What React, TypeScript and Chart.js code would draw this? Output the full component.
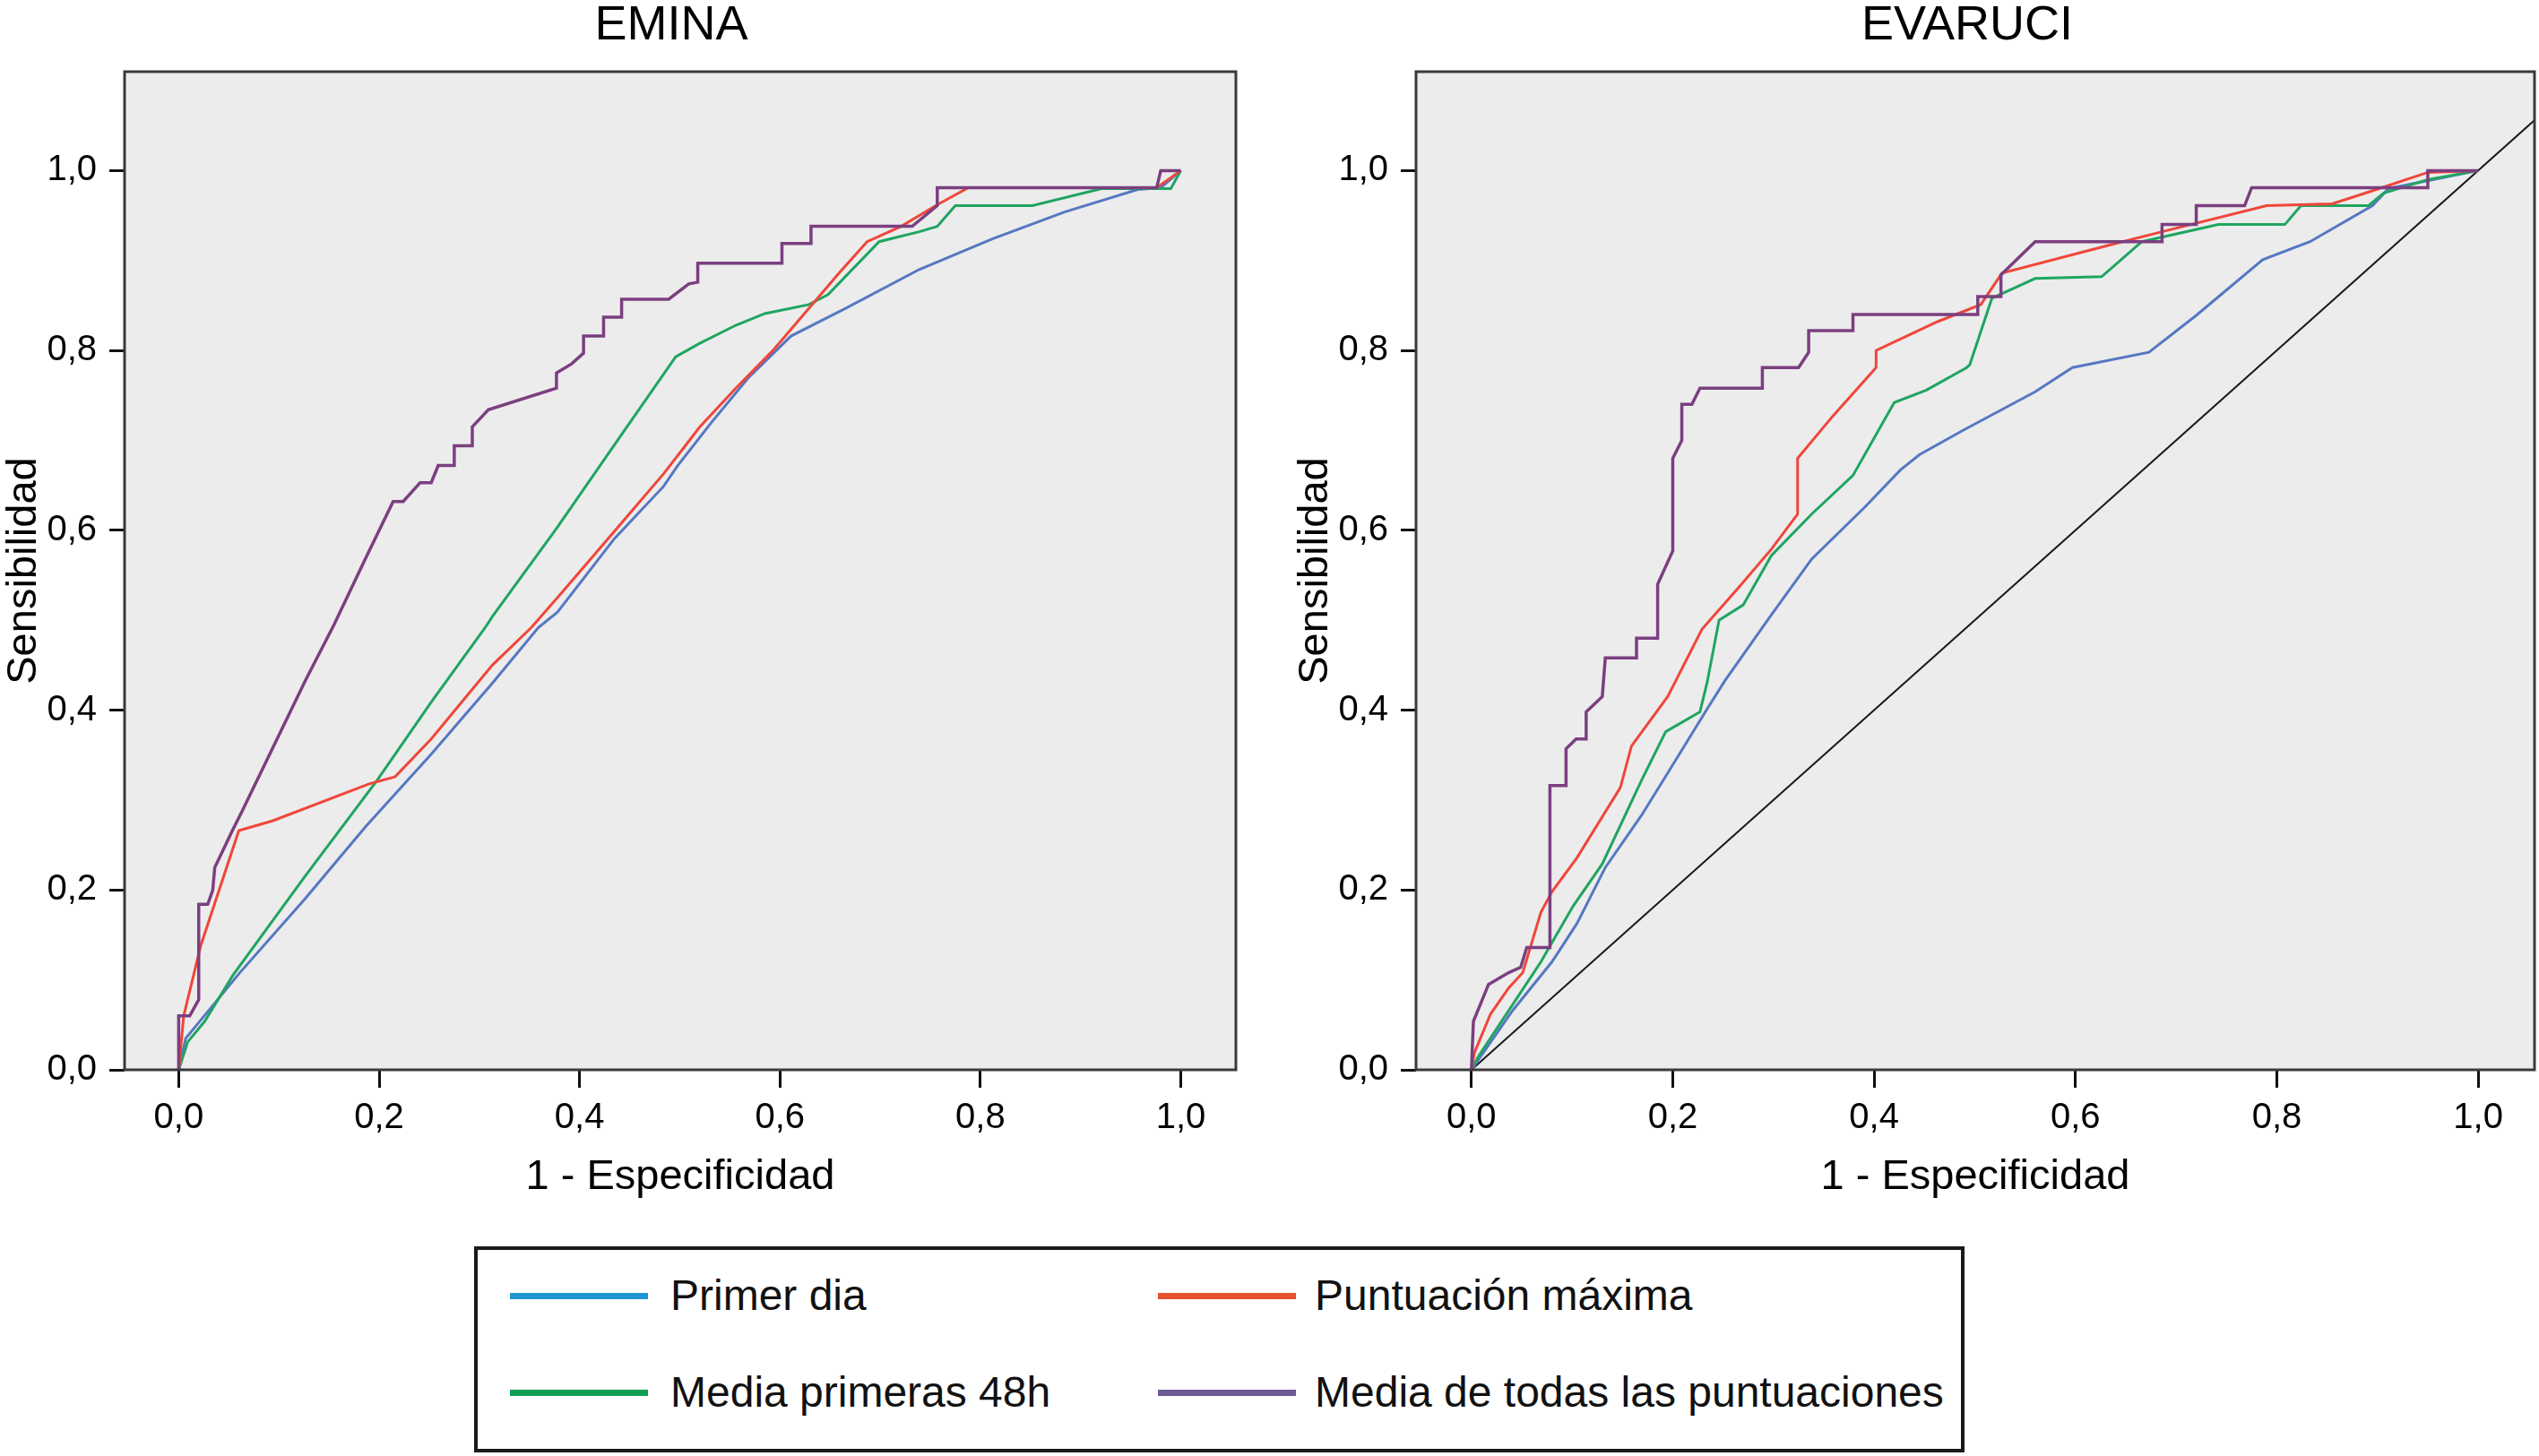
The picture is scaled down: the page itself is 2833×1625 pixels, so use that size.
import React, { useEffect, useRef } from "react";
import { Chart, registerables } from "chart.js";

Chart.register(...registerables);

type Pt = [number, number];

const FONT = '"Liberation Sans", Arial, Helvetica, sans-serif';

const SERIES_LABELS = [
  "Primer dia",
  "Puntuación máxima",
  "Media primeras 48h",
  "Media de todas las puntuaciones",
];
const PLOT_COLORS = ["#5578c2", "#f0463a", "#1fa561", "#7b3f80"];
const LEGEND_COLORS = ["#1e96d2", "#e5522c", "#0f9d52", "#6d5a95"];

const X_TICKS = [0, 0.2, 0.4, 0.6, 0.8, 1.0];
const X_TICK_LABELS = ["0,0", "0,2", "0,4", "0,6", "0,8", "1,0"];
const Y_TICKS = [0, 0.2, 0.4, 0.6, 0.8, 1.0];
const Y_TICK_LABELS = ["0,0", "0,2", "0,4", "0,6", "0,8", "1,0"];

// ---------- EMINA ----------
const eminaPrimerDia: Pt[] = [
  [0, 0], [0.007, 0.035], [0.061, 0.108], [0.126, 0.19], [0.187, 0.271],
  [0.252, 0.351], [0.313, 0.43], [0.359, 0.492], [0.378, 0.509], [0.435, 0.591],
  [0.484, 0.649], [0.498, 0.672], [0.531, 0.719], [0.568, 0.769], [0.611, 0.816],
  [0.666, 0.847], [0.739, 0.89], [0.812, 0.924], [0.884, 0.954], [0.957, 0.979],
  [0.98, 0.981], [1.0, 1.0],
];
const eminaPuntMax: Pt[] = [
  [0, 0], [0.005, 0.06], [0.022, 0.138], [0.06, 0.266], [0.094, 0.277],
  [0.19, 0.318], [0.216, 0.326], [0.252, 0.368], [0.313, 0.45], [0.352, 0.492],
  [0.378, 0.525], [0.435, 0.599], [0.484, 0.663], [0.509, 0.699], [0.52, 0.715],
  [0.556, 0.758], [0.593, 0.8], [0.629, 0.847], [0.659, 0.886], [0.687, 0.921],
  [0.721, 0.938], [0.757, 0.962], [0.788, 0.981], [0.976, 0.981], [1.0, 1.0],
];
const eminaMedia48: Pt[] = [
  [0, 0], [0.009, 0.031], [0.026, 0.054], [0.054, 0.105], [0.126, 0.215],
  [0.198, 0.322], [0.252, 0.409], [0.306, 0.492], [0.313, 0.504], [0.377, 0.602],
  [0.438, 0.7], [0.496, 0.793], [0.52, 0.808], [0.556, 0.828], [0.585, 0.841],
  [0.629, 0.851], [0.648, 0.862], [0.699, 0.921], [0.739, 0.932], [0.757, 0.938],
  [0.775, 0.961], [0.852, 0.961], [0.921, 0.98], [0.99, 0.98], [1.0, 1.0],
];
const eminaMediaTodas: Pt[] = [
  [0, 0], [0, 0.06], [0.011, 0.06], [0.02, 0.078], [0.02, 0.184], [0.029, 0.184],
  [0.034, 0.2], [0.036, 0.225], [0.054, 0.267], [0.063, 0.287], [0.126, 0.432],
  [0.155, 0.495], [0.187, 0.57], [0.214, 0.632], [0.224, 0.632], [0.241, 0.653],
  [0.252, 0.653], [0.259, 0.672], [0.275, 0.672], [0.275, 0.694], [0.293, 0.694],
  [0.293, 0.715], [0.309, 0.734], [0.377, 0.758], [0.377, 0.775], [0.392, 0.785],
  [0.404, 0.797], [0.404, 0.816], [0.424, 0.816], [0.424, 0.837], [0.442, 0.837],
  [0.442, 0.857], [0.489, 0.857], [0.509, 0.874], [0.518, 0.876], [0.518, 0.897],
  [0.602, 0.897], [0.602, 0.919], [0.631, 0.919], [0.631, 0.938], [0.732, 0.938],
  [0.757, 0.961], [0.757, 0.981], [0.976, 0.981], [0.98, 1.0], [1.0, 1.0],
];

// ---------- EVARUCI ----------
const evaruciPrimerDia: Pt[] = [
  [0, 0], [0.041, 0.066], [0.08, 0.12], [0.105, 0.163], [0.133, 0.225],
  [0.169, 0.283], [0.195, 0.33], [0.234, 0.401], [0.252, 0.433], [0.298, 0.506],
  [0.338, 0.568], [0.391, 0.626], [0.426, 0.667], [0.445, 0.684], [0.488, 0.711],
  [0.56, 0.754], [0.597, 0.781], [0.673, 0.798], [0.72, 0.839], [0.786, 0.901],
  [0.833, 0.921], [0.895, 0.961], [0.911, 0.98], [1.0, 1.0],
];
const evaruciPuntMax: Pt[] = [
  [0, 0], [0.003, 0.019], [0.019, 0.062], [0.037, 0.091], [0.051, 0.108],
  [0.069, 0.175], [0.08, 0.198], [0.105, 0.236], [0.148, 0.314], [0.159, 0.36],
  [0.195, 0.415], [0.229, 0.49], [0.266, 0.537], [0.298, 0.579], [0.324, 0.618],
  [0.324, 0.68], [0.359, 0.727], [0.402, 0.781], [0.402, 0.8], [0.463, 0.832],
  [0.506, 0.851], [0.527, 0.886], [0.633, 0.917], [0.686, 0.932], [0.79, 0.961],
  [0.855, 0.963], [0.888, 0.975], [0.95, 0.998], [1.0, 1.0],
];
const evaruciMedia48: Pt[] = [
  [0, 0], [0.007, 0.015], [0.03, 0.054], [0.069, 0.12], [0.101, 0.182],
  [0.13, 0.229], [0.169, 0.322], [0.193, 0.376], [0.227, 0.398], [0.234, 0.43],
  [0.246, 0.5], [0.27, 0.517], [0.298, 0.572], [0.338, 0.618], [0.379, 0.661],
  [0.42, 0.742], [0.452, 0.756], [0.492, 0.781], [0.495, 0.784], [0.517, 0.858],
  [0.56, 0.88], [0.626, 0.882], [0.666, 0.921], [0.742, 0.94], [0.808, 0.94],
  [0.824, 0.961], [0.891, 0.961], [0.906, 0.975], [0.95, 0.99], [1.0, 1.0],
];
const evaruciMediaTodas: Pt[] = [
  [0, 0], [0.002, 0.054], [0.017, 0.095], [0.037, 0.108], [0.049, 0.114],
  [0.055, 0.136], [0.078, 0.136], [0.078, 0.316], [0.094, 0.316], [0.094, 0.357],
  [0.104, 0.368], [0.114, 0.368], [0.114, 0.398], [0.13, 0.415], [0.133, 0.458],
  [0.164, 0.458], [0.164, 0.48], [0.185, 0.48], [0.185, 0.54], [0.2, 0.577],
  [0.2, 0.68], [0.209, 0.7], [0.209, 0.74], [0.219, 0.74], [0.227, 0.758],
  [0.289, 0.758], [0.289, 0.781], [0.325, 0.781], [0.335, 0.798], [0.335, 0.822],
  [0.379, 0.822], [0.379, 0.84], [0.503, 0.84], [0.503, 0.86], [0.526, 0.86],
  [0.526, 0.884], [0.56, 0.921], [0.686, 0.921], [0.686, 0.94], [0.72, 0.94],
  [0.72, 0.961], [0.768, 0.961], [0.775, 0.981], [0.95, 0.981], [0.95, 1.0],
  [1.0, 1.0],
];
const referenceDiagonal: Pt[] = [[0, 0], [1.1, 1.1]];

type PanelProps = {
  title: string;
  series: Pt[][];
  diagonal: Pt[] | null;
  left: number;
  width: number;
  padRight: number;
  xMin: number;
  xMax: number;
  titleDx: number;
};

const PANEL_HEIGHT = 1345;

function Panel({ title, series, diagonal, left, width, padRight, xMin, xMax, titleDx }: PanelProps) {
  const ref = useRef<HTMLCanvasElement | null>(null);

  useEffect(() => {
    if (!ref.current) return;
    const plotBox = {
      id: "plotBox",
      beforeDraw(chart: any) {
        const { ctx, chartArea: a } = chart;
        ctx.save();
        ctx.fillStyle = "#ececec";
        ctx.fillRect(a.left, a.top, a.right - a.left, a.bottom - a.top);
        ctx.restore();
      },
      afterDraw(chart: any) {
        const { ctx, chartArea: a } = chart;
        ctx.save();
        ctx.strokeStyle = "#3a3a3a";
        ctx.lineWidth = 3;
        ctx.strokeRect(a.left, a.top, a.right - a.left, a.bottom - a.top);
        ctx.fillStyle = "#000";
        ctx.font = `54px ${FONT}`;
        ctx.textAlign = "center";
        ctx.textBaseline = "middle";
        ctx.fillText(title, (a.left + a.right) / 2 + titleDx, 29);
        ctx.restore();
      },
    };

    const datasets: any[] = series.map((s, i) => ({
      label: SERIES_LABELS[i],
      data: s.map(([x, y]) => ({ x, y })),
      showLine: true,
      borderColor: PLOT_COLORS[i],
      backgroundColor: PLOT_COLORS[i],
      borderWidth: i === 3 ? 3.5 : 3,
      pointRadius: 0,
      pointHoverRadius: 0,
      tension: 0,
      fill: false,
      order: [3, 1, 2, 0][i],
    }));
    if (diagonal) {
      datasets.push({
        label: "Línea de referencia",
        data: diagonal.map(([x, y]) => ({ x, y })),
        showLine: true,
        borderColor: "#1a1a1a",
        borderWidth: 2,
        pointRadius: 0,
        tension: 0,
        fill: false,
        order: 5,
      });
    }

    const chart = new Chart(ref.current, {
      type: "scatter",
      data: { datasets },
      plugins: [plotBox],
      options: {
        animation: false,
        responsive: true,
        maintainAspectRatio: false,
        layout: { padding: { top: 80, right: padRight, bottom: 0, left: 0 } },
        plugins: {
          legend: { display: false },
          tooltip: { enabled: false },
          title: { display: false },
        },
        scales: {
          x: {
            type: "linear",
            min: xMin,
            max: xMax,
            afterBuildTicks: (s: any) => {
              s.ticks = X_TICKS.map((v) => ({ value: v }));
            },
            afterFit: (s: any) => {
              s.height = PANEL_HEIGHT - 1194;
            },
            ticks: {
              callback: (_v: any, i: number) => X_TICK_LABELS[i],
              font: { family: FONT, size: 40 },
              color: "#000",
              padding: 10,
              maxRotation: 0,
              autoSkip: false,
            },
            grid: {
              display: true,
              drawOnChartArea: false,
              drawTicks: true,
              tickLength: 20,
              tickWidth: 3,
              tickColor: "#111",
            },
            border: { display: false },
            title: {
              display: true,
              text: "1 - Especificidad",
              color: "#000",
              font: { family: FONT, size: 47, lineHeight: 1 },
              padding: { top: 0, bottom: 7 },
            },
          },
          y: {
            type: "linear",
            min: 0,
            max: 1.11,
            afterBuildTicks: (s: any) => {
              s.ticks = Y_TICKS.map((v) => ({ value: v }));
            },
            afterFit: (s: any) => {
              s.width = 139;
            },
            ticks: {
              callback: (_v: any, i: number) => Y_TICK_LABELS[i],
              font: { family: FONT, size: 40 },
              color: "#000",
              padding: 14,
              autoSkip: false,
            },
            grid: {
              display: true,
              drawOnChartArea: false,
              drawTicks: true,
              tickLength: 17,
              tickWidth: 3,
              tickColor: "#111",
            },
            border: { display: false },
            title: {
              display: true,
              text: "Sensibilidad",
              color: "#000",
              font: { family: FONT, size: 47, lineHeight: 1 },
              padding: { top: 4, bottom: 0 },
            },
          },
        },
      } as any,
    });
    return () => chart.destroy();
  }, []);

  return (
    <div style={{ position: "absolute", left, top: 0, width, height: PANEL_HEIGHT }}>
      <canvas ref={ref} style={{ display: "block" }} />
    </div>
  );
}

function LegendBox() {
  const rows = [
    { idx: 0, x: 40, tx: 219, y: 55 },
    { idx: 1, x: 763, tx: 938, y: 55 },
    { idx: 2, x: 40, tx: 219, y: 163 },
    { idx: 3, x: 763, tx: 938, y: 163 },
  ];
  return (
    <div
      style={{
        position: "absolute",
        left: 529,
        top: 1391,
        width: 1663,
        height: 230,
        boxSizing: "border-box",
        border: "4px solid #1a1a1a",
        background: "#fff",
        fontFamily: FONT,
      }}
    >
      {rows.map((r) => (
        <React.Fragment key={r.idx}>
          <div
            style={{
              position: "absolute",
              left: r.x - 4,
              top: r.y - 4 - 3.5,
              width: 154,
              height: 7,
              background: LEGEND_COLORS[r.idx],
            }}
          />
          <div
            style={{
              position: "absolute",
              left: r.tx - 4,
              top: r.y - 4 - 30,
              height: 60,
              lineHeight: "60px",
              fontSize: 48,
              color: "#111",
              whiteSpace: "nowrap",
            }}
          >
            {SERIES_LABELS[r.idx]}
          </div>
        </React.Fragment>
      ))}
    </div>
  );
}

export default function App() {
  return (
    <div>
      <Panel
        title="EMINA"
        series={[eminaPrimerDia, eminaPuntMax, eminaMedia48, eminaMediaTodas]}
        diagonal={null}
        left={0}
        width={1400}
        padRight={21}
        xMin={-0.054}
        xMax={1.055}
        titleDx={-10}
      />
      <Panel
        title="EVARUCI"
        series={[evaruciPrimerDia, evaruciPuntMax, evaruciMedia48, evaruciMediaTodas]}
        diagonal={referenceDiagonal}
        left={1441}
        width={1391}
        padRight={4}
        xMin={-0.055}
        xMax={1.056}
        titleDx={-9}
      />
      <LegendBox />
    </div>
  );
}
